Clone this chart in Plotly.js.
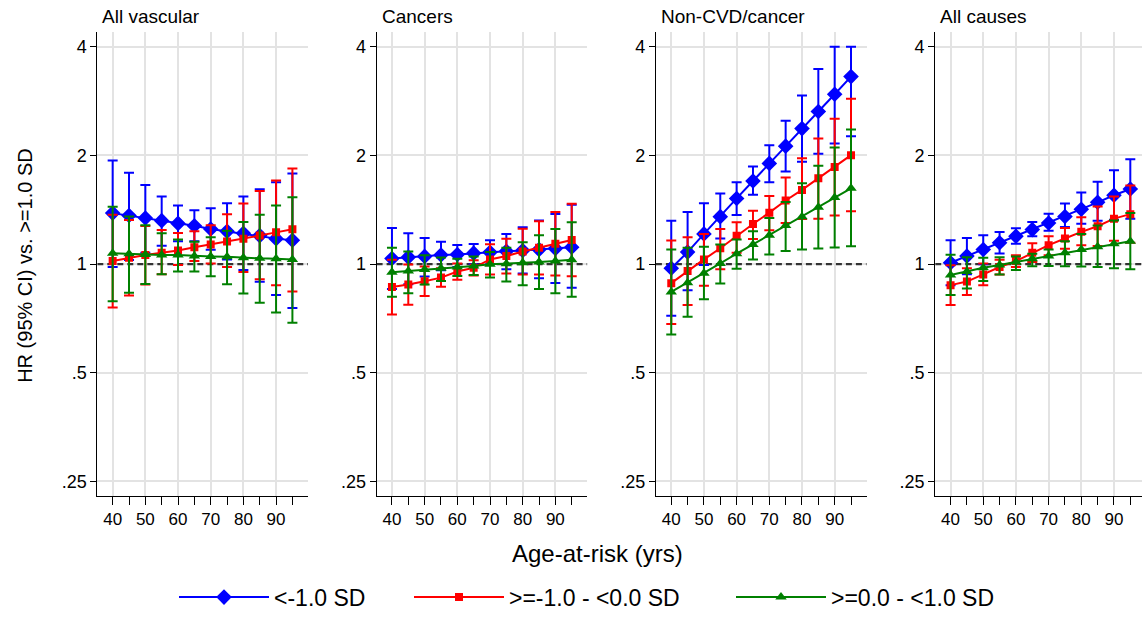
<!DOCTYPE html>
<html>
<head>
<meta charset="utf-8">
<script src="https://cdn.plot.ly/plotly-3.0.1.min.js"></script>
<style>html,body{margin:0;padding:0;background:#fff;}#chart{width:1142px;height:619px;}</style>
</head>
<body>
<div id="chart"></div>
<script>
// ---- data ----
const ages = [40, 45, 50, 55, 60, 65, 70, 75, 80, 85, 90, 95];
const panelTitles = ["All vascular", "Cancers", "Non-CVD/cancer", "All causes"];
const seriesNames = ["<-1.0 SD", ">=-1.0 - <0.0 SD", ">=0.0 - <1.0 SD"];
const yTickVals = [0.25, 0.5, 1, 2, 4];
const yTickText = [".25", ".5", "1", "2", "4"];
const xTickVals = [40, 50, 60, 70, 80, 90];
const refHR = 1;

// All vascular
const vasc_s1_hr = [1.384, 1.363, 1.341, 1.319, 1.296, 1.277, 1.251, 1.232, 1.217, 1.199, 1.176, 1.164];
const vasc_s1_lo = [0.981, 1.026, 1.074, 1.123, 1.156, 1.157, 1.096, 1.030, 0.963, 0.893, 0.820, 0.755];
const vasc_s1_hi = [1.936, 1.790, 1.656, 1.538, 1.453, 1.410, 1.428, 1.474, 1.538, 1.611, 1.686, 1.783];
const vasc_s2_hr = [1.019, 1.041, 1.059, 1.074, 1.090, 1.113, 1.133, 1.154, 1.176, 1.199, 1.224, 1.248];
const vasc_s2_lo = [0.758, 0.818, 0.877, 0.937, 0.994, 1.019, 1.004, 0.981, 0.951, 0.908, 0.874, 0.839];
const vasc_s2_hi = [1.369, 1.324, 1.275, 1.243, 1.219, 1.232, 1.280, 1.375, 1.471, 1.594, 1.705, 1.840];
const vasc_s3_hr = [1.072, 1.067, 1.063, 1.059, 1.059, 1.052, 1.050, 1.047, 1.041, 1.037, 1.035, 1.030];
const vasc_s3_lo = [0.788, 0.832, 0.881, 0.937, 0.953, 0.953, 0.925, 0.879, 0.829, 0.781, 0.734, 0.687];
const vasc_s3_hi = [1.441, 1.355, 1.280, 1.217, 1.169, 1.152, 1.187, 1.237, 1.308, 1.370, 1.453, 1.532];

// Cancers
const canc_s1_hr = [1.036, 1.045, 1.050, 1.059, 1.063, 1.072, 1.078, 1.085, 1.090, 1.097, 1.104, 1.113];
const canc_s1_lo = [0.853, 0.879, 0.923, 0.961, 0.981, 0.998, 0.999, 0.967, 0.941, 0.913, 0.886, 0.859];
const canc_s1_hi = [1.258, 1.217, 1.181, 1.153, 1.130, 1.137, 1.164, 1.212, 1.264, 1.320, 1.376, 1.459];
const canc_s2_hr = [0.863, 0.877, 0.896, 0.917, 0.953, 0.976, 1.030, 1.052, 1.083, 1.109, 1.138, 1.166];
const canc_s2_lo = [0.724, 0.771, 0.816, 0.865, 0.904, 0.930, 0.936, 0.941, 0.936, 0.936, 0.930, 0.925];
const canc_s2_hi = [1.028, 0.997, 0.984, 0.973, 1.004, 1.024, 1.134, 1.176, 1.253, 1.313, 1.393, 1.469];
const canc_s3_hr = [0.949, 0.956, 0.965, 0.973, 0.981, 0.987, 0.998, 1.002, 1.008, 1.013, 1.019, 1.028];
const canc_s3_lo = [0.812, 0.830, 0.877, 0.898, 0.927, 0.933, 0.917, 0.895, 0.874, 0.853, 0.830, 0.812];
const canc_s3_hi = [1.109, 1.083, 1.057, 1.043, 1.035, 1.050, 1.079, 1.110, 1.149, 1.202, 1.251, 1.305];

// Non-CVD/cancer
const ncvd_s1_hr = [0.973, 1.079, 1.212, 1.353, 1.520, 1.699, 1.901, 2.122, 2.374, 2.648, 2.957, 3.308];
const ncvd_s1_lo = [0.719, 0.846, 0.994, 1.177, 1.367, 1.555, 1.685, 1.804, 1.921, 2.021, 2.158, 2.261];
const ncvd_s1_hi = [1.319, 1.394, 1.475, 1.568, 1.685, 1.865, 2.136, 2.497, 2.932, 3.472, 4.000, 4.000];
const ncvd_s2_hr = [0.885, 0.957, 1.030, 1.106, 1.197, 1.291, 1.388, 1.500, 1.605, 1.729, 1.857, 2.004];
const ncvd_s2_lo = [0.682, 0.770, 0.870, 0.967, 1.075, 1.174, 1.241, 1.300, 1.333, 1.336, 1.364, 1.400];
const ncvd_s2_hi = [1.162, 1.187, 1.212, 1.251, 1.305, 1.405, 1.545, 1.736, 1.963, 2.227, 2.528, 2.870];
const ncvd_s3_hr = [0.837, 0.888, 0.943, 1.004, 1.068, 1.133, 1.202, 1.278, 1.353, 1.438, 1.529, 1.622];
const ncvd_s3_lo = [0.638, 0.714, 0.799, 0.883, 0.971, 1.030, 1.063, 1.086, 1.097, 1.104, 1.111, 1.121];
const ncvd_s3_hi = [1.097, 1.109, 1.116, 1.133, 1.170, 1.233, 1.342, 1.485, 1.675, 1.873, 2.104, 2.359];

// All causes
const allc_s1_hr = [1.008, 1.052, 1.097, 1.145, 1.194, 1.246, 1.299, 1.355, 1.419, 1.483, 1.551, 1.614];
const allc_s1_lo = [0.874, 0.937, 0.998, 1.070, 1.138, 1.194, 1.237, 1.267, 1.293, 1.319, 1.327, 1.335];
const allc_s1_hi = [1.164, 1.181, 1.202, 1.227, 1.256, 1.308, 1.378, 1.471, 1.578, 1.691, 1.821, 1.952];
const allc_s2_hr = [0.874, 0.894, 0.936, 0.981, 1.019, 1.075, 1.128, 1.177, 1.228, 1.273, 1.336, 1.375];
const allc_s2_lo = [0.770, 0.821, 0.874, 0.936, 0.981, 1.013, 1.058, 1.102, 1.128, 1.122, 1.160, 1.146];
const allc_s2_hi = [0.992, 0.973, 1.003, 1.028, 1.057, 1.141, 1.194, 1.259, 1.347, 1.444, 1.539, 1.651];
const allc_s3_hr = [0.932, 0.953, 0.977, 0.994, 1.013, 1.035, 1.052, 1.075, 1.097, 1.116, 1.138, 1.157];
const allc_s3_lo = [0.820, 0.855, 0.898, 0.936, 0.963, 0.986, 0.988, 0.986, 0.984, 0.981, 0.973, 0.967];
const allc_s3_hi = [1.061, 1.045, 1.041, 1.045, 1.050, 1.068, 1.097, 1.157, 1.212, 1.278, 1.320, 1.385];

// ---- build ----
const panels = [
  [[vasc_s1_hr, vasc_s1_lo, vasc_s1_hi], [vasc_s2_hr, vasc_s2_lo, vasc_s2_hi], [vasc_s3_hr, vasc_s3_lo, vasc_s3_hi]],
  [[canc_s1_hr, canc_s1_lo, canc_s1_hi], [canc_s2_hr, canc_s2_lo, canc_s2_hi], [canc_s3_hr, canc_s3_lo, canc_s3_hi]],
  [[ncvd_s1_hr, ncvd_s1_lo, ncvd_s1_hi], [ncvd_s2_hr, ncvd_s2_lo, ncvd_s2_hi], [ncvd_s3_hr, ncvd_s3_lo, ncvd_s3_hi]],
  [[allc_s1_hr, allc_s1_lo, allc_s1_hi], [allc_s2_hr, allc_s2_lo, allc_s2_hi], [allc_s3_hr, allc_s3_lo, allc_s3_hi]]
];
const colors = ["#0000ff", "#ff0000", "#008000"];
const symbols = ["diamond", "square", "triangle-up"];
const msizes = [12, 8, 10];

const W = 1142, H = 619;
const FONT = "Liberation Sans, Arial, sans-serif";
const panelLeft = [97.3, 376.6, 655.9, 935.2];
const panelW = 210.8;
const plotTop = 32, plotBottom = 500;
const xRange = [35.3, 99.8];
const legendLeft = [174, 409, 731];
const legendY = 602;

const traces = [];
const layout = {
  width: W, height: H,
  margin: {l: 0, r: 0, t: 0, b: 0},
  paper_bgcolor: "#ffffff", plot_bgcolor: "#ffffff",
  font: {family: FONT, size: 16, color: "#000"},
  showlegend: true,
  shapes: [], annotations: []
};
["legend", "legend2", "legend3"].forEach((lg, k) => {
  layout[lg] = {orientation: "h", x: legendLeft[k] / W, xanchor: "left", y: 1 - legendY / H, yanchor: "middle",
    font: {size: 23, family: FONT, color: "#000"}, itemwidth: 90, bgcolor: "rgba(0,0,0,0)", borderwidth: 0};
});

panels.forEach((panel, p) => {
  const ax = p === 0 ? "" : String(p + 1);
  const x0 = panelLeft[p] / W;
  let x1 = (panelLeft[p] + panelW) / W;
  let xr = xRange.slice();
  if (x1 > 1) { x1 = 1; xr[1] = xRange[0] + (W - panelLeft[p]) * (xRange[1] - xRange[0]) / panelW; }
  layout["xaxis" + ax] = {
    domain: [x0, x1], range: xr, anchor: "y" + ax,
    tickmode: "array", tickvals: xTickVals, ticks: "outside", ticklen: 8, tickwidth: 1, tickcolor: "#000",
    minor: {dtick: 5, tick0: 40, ticks: "outside", ticklen: 8, tickwidth: 1, tickcolor: "#000", showgrid: false},
    showline: true, linecolor: "#000", linewidth: 1,
    showgrid: true, gridcolor: "#e3e3e3", gridwidth: 2, zeroline: false,
    tickfont: {size: 17, family: FONT, color: "#000"}, fixedrange: true
  };
  layout["yaxis" + ax] = {
    domain: [1 - plotBottom / H, 1 - plotTop / H], type: "log", range: [-0.643, 0.644], anchor: "x" + ax,
    tickmode: "array", tickvals: yTickVals, ticktext: yTickText, ticks: "outside", ticklen: 6, tickwidth: 1, tickcolor: "#000",
    showline: true, linecolor: "#000", linewidth: 1,
    showgrid: true, gridcolor: "#e3e3e3", gridwidth: 2, zeroline: false,
    tickfont: {size: 18, family: FONT, color: "#000"}, fixedrange: true
  };
  layout.shapes.push({type: "line", xref: "x" + ax, yref: "y" + ax, x0: xr[0], x1: xr[1], y0: refHR, y1: refHR,
    layer: "between", line: {color: "#333333", width: 2.2, dash: "6px,4px"}});
  layout.annotations.push({text: panelTitles[p], xref: "paper", yref: "paper", x: x0, y: 1 - 17 / H,
    xanchor: "left", yanchor: "middle", xshift: 3, showarrow: false, font: {size: 19, family: FONT, color: "#000"}});

  panel.forEach((s, k) => {
    const [hr, lo, hi] = s;
    traces.push({
      type: "scatter", mode: "lines+markers", x: ages, y: hr,
      xaxis: "x" + ax, yaxis: "y" + ax,
      name: seriesNames[k], legendgroup: "g" + k, showlegend: p === 0,
      legend: k === 0 ? "legend" : "legend" + (k + 1),
      line: {color: colors[k], width: 2},
      marker: {color: colors[k], symbol: symbols[k], size: msizes[k], line: {width: 0}},
      error_y: {type: "data", symmetric: false,
        array: hr.map((v, i) => hi[i] - v), arrayminus: hr.map((v, i) => v - lo[i]),
        color: colors[k], thickness: 2, width: 5},
      hoverinfo: "skip"
    });
  });
});

layout.annotations.push({text: "HR (95% CI) vs. >=1.0 SD", xref: "paper", yref: "paper", x: 25 / W, y: 1 - 268 / H,
  textangle: -90, showarrow: false, xanchor: "center", yanchor: "middle", font: {size: 20, family: FONT, color: "#000"}});
layout.annotations.push({text: "Age-at-risk (yrs)", xref: "paper", yref: "paper", x: 597 / W, y: 1 - 558 / H,
  showarrow: false, xanchor: "center", yanchor: "middle", font: {size: 24, family: FONT, color: "#000"}});

Plotly.newPlot("chart", traces, layout, {staticPlot: true, displayModeBar: false});
</script>
</body>
</html>
